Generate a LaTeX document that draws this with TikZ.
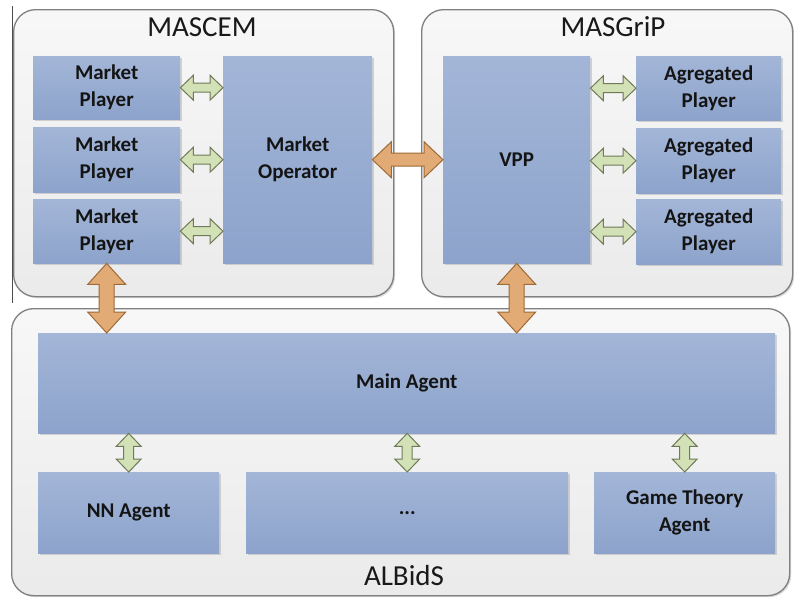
\documentclass[tikz,border=0pt]{standalone}
\usepackage{fontspec}
\setmainfont{Carlito}
\usetikzlibrary{calc,shadows}
\definecolor{boxtop}{HTML}{A3B6D8}
\definecolor{boxbot}{HTML}{8DA3CB}
\definecolor{contborder}{HTML}{808080}
\definecolor{greenfill}{HTML}{D3E1B7}
\definecolor{greenline}{HTML}{6E7A58}
\definecolor{orangefill}{HTML}{E2AA74}
\definecolor{orangeline}{HTML}{9E6A38}
\definecolor{txt}{HTML}{141414}
\tikzset{
  container/.style={draw=contborder, line width=1.3pt, rounded corners=22pt,
    top color=white!97!black, bottom color=white!92!black, anchor=north west,
    inner sep=0pt, drop shadow={shadow xshift=1.5pt, shadow yshift=-1.5pt, opacity=0.3}},
  boxnode/.style={top color=boxtop, bottom color=boxbot, anchor=north west, inner sep=0pt,
    align=center, text=txt, font=\fontsize{21}{27}\selectfont\bfseries,
    drop shadow={shadow xshift=2pt, shadow yshift=-2pt, opacity=0.3}},
  titlelabel/.style={font=\fontsize{29}{32}\selectfont, text=black!90},
  greenarrow/.style={fill=greenfill, draw=greenline, line width=1pt, line join=miter},
  orangearrow/.style={fill=orangefill, draw=orangeline, line width=1pt, line join=miter},
}
% horizontal block double arrow: #1 style, #2 left point, #3 right point, #4 half shaft, #5 half head, #6 head length
\newcommand\blockharrow[6]{%
  \path[#1] let \p1=#2, \p2=#3 in
    (\x1,\y1) -- (\x1+#6,\y1+#5) -- (\x1+#6,\y1+#4) -- (\x2-#6,\y1+#4) -- (\x2-#6,\y1+#5)
    -- (\x2,\y1) -- (\x2-#6,\y1-#5) -- (\x2-#6,\y1-#4) -- (\x1+#6,\y1-#4) -- (\x1+#6,\y1-#5) -- cycle;}
% vertical block double arrow: #2 upper point, #3 lower point
\newcommand\blockvarrow[6]{%
  \path[#1] let \p1=#2, \p2=#3 in
    (\x1,\y1) -- (\x1+#5,\y1-#6) -- (\x1+#4,\y1-#6) -- (\x1+#4,\y2+#6) -- (\x1+#5,\y2+#6)
    -- (\x1,\y2) -- (\x1-#5,\y2+#6) -- (\x1-#4,\y2+#6) -- (\x1-#4,\y1-#6) -- (\x1-#5,\y1-#6) -- cycle;}
\begin{document}
\begin{tikzpicture}[x=1pt,y=-1pt]
\useasboundingbox (0,0) rectangle (794,598);
\fill[white] (0,0) rectangle (794,598);

% containers
\node[container, minimum width=380, minimum height=287] (mascem) at (13,9) {};
\node[container, minimum width=371, minimum height=287] (masgrip) at (421,9) {};
\node[container, minimum width=778, minimum height=287] (albids) at (11,308) {};
\draw[black!70, line width=0.8pt] (12,6) -- (12,303);

% titles
\node[titlelabel] (tmascem) at (202,27) {MASCEM};
\node[titlelabel] (tmasgrip) at (613,27) {MASGriP};
\node[titlelabel] (talbids) at (404,576) {ALBidS};

% MASCEM boxes
\node[boxnode, minimum width=147, minimum height=63] (mp1) at (33,56) {Market\\Player};
\node[boxnode, minimum width=147, minimum height=65] (mp2) at (33,127) {Market\\Player};
\node[boxnode, minimum width=147, minimum height=64] (mp3) at (33,199) {Market\\Player};
\node[boxnode, minimum width=149, minimum height=207] (mo) at (223,56) {Market\\Operator};

% MASGriP boxes
\node[boxnode, minimum width=147, minimum height=207] (vpp) at (443,56) {VPP};
\node[boxnode, minimum width=145, minimum height=64] (ap1) at (636,56) {Agregated\\Player};
\node[boxnode, minimum width=145, minimum height=65] (ap2) at (636,128) {Agregated\\Player};
\node[boxnode, minimum width=145, minimum height=65] (ap3) at (636,199) {Agregated\\Player};

% ALBidS boxes
\node[boxnode, minimum width=737, minimum height=100] (main) at (38,333) {Main Agent};
\node[boxnode, minimum width=181, minimum height=81] (nn) at (38,472) {NN Agent};
\node[boxnode, minimum width=322, minimum height=81] (dots) at (246,472) {...};
\node[boxnode, minimum width=181, minimum height=81] (gt) at (594,472) {Game Theory\\Agent};

% green arrows MASCEM
\blockharrow{greenarrow}{(mp1.east)}{(mo.west |- mp1.east)}{4.5}{12.5}{13}
\blockharrow{greenarrow}{(mp2.east)}{(mo.west |- mp2.east)}{4.5}{12.5}{13}
\blockharrow{greenarrow}{(mp3.east)}{(mo.west |- mp3.east)}{4.5}{12.5}{13}
% green arrows MASGriP
\blockharrow{greenarrow}{(vpp.east |- ap1.west)}{(ap1.west)}{4.5}{12.5}{13}
\blockharrow{greenarrow}{(vpp.east |- ap2.west)}{(ap2.west)}{4.5}{12.5}{13}
\blockharrow{greenarrow}{(vpp.east |- ap3.west)}{(ap3.west)}{4.5}{12.5}{13}
% green arrows ALBidS
\blockvarrow{greenarrow}{(main.south -| nn.north)}{(nn.north)}{5}{12.5}{13}
\blockvarrow{greenarrow}{(main.south -| dots.north)}{(dots.north)}{5}{12.5}{13}
\blockvarrow{greenarrow}{(main.south -| gt.north)}{(gt.north)}{5}{12.5}{13}

% orange arrows
\blockharrow{orangearrow}{(mo.east)}{(vpp.west |- mo.east)}{6.5}{18}{19}
\blockvarrow{orangearrow}{(mp3.south)}{(main.north -| mp3.south)}{7.5}{19}{21}
\blockvarrow{orangearrow}{(vpp.south)}{(main.north -| vpp.south)}{7.5}{19}{21}
\end{tikzpicture}
\end{document}
